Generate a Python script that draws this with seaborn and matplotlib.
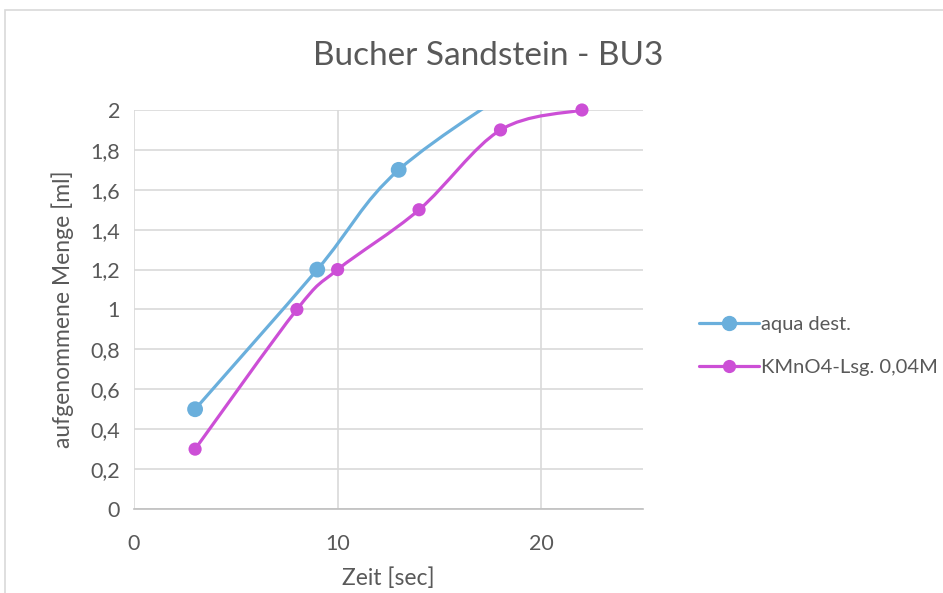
import numpy as np
import matplotlib
matplotlib.use("Agg")
import matplotlib.pyplot as plt
import seaborn as sns
from matplotlib.path import Path
from matplotlib.patches import PathPatch, Rectangle
from matplotlib.lines import Line2D
from matplotlib.ticker import FuncFormatter

# Data
aqua_x = [3, 9, 13, 20]
aqua_y = [0.5, 1.2, 1.7, 2.2]
kmno4_x = [3, 8, 10, 14, 18, 22]
kmno4_y = [0.3, 1.0, 1.2, 1.5, 1.9, 2.0]
series_names = ["aqua dest.", "KMnO4-Lsg. 0,04M"]
series_colors = ["#6aafdc", "#cc4fd6"]

sns.set_style("white")
plt.rcParams['font.family'] = ['Lato', 'DejaVu Sans']
grey = "#595959"


def smooth_path(xs, ys):
    # Excel-style smoothed line: cubic Bezier segments (Catmull-Rom control points)
    pts = np.column_stack([xs, ys]).astype(float)
    n = len(pts)
    verts = [pts[0]]
    codes = [Path.MOVETO]
    for i in range(n - 1):
        p0 = pts[i - 1] if i > 0 else pts[i]
        p1 = pts[i]
        p2 = pts[i + 1]
        p3 = pts[i + 2] if i + 2 < n else pts[i + 1]
        c1 = p1 + (p2 - p0) / 6.0
        c2 = p2 - (p3 - p1) / 6.0
        verts += [c1, c2, p2]
        codes += [Path.CURVE4] * 3
    return Path(verts, codes)


fig = plt.figure(figsize=(9.43, 5.93), dpi=100)
ax = fig.add_axes([0.1421, 0.1417, 0.5398, 0.6728])

# chart frame
fig.patches.append(Rectangle((5 / 943, -0.1), 1.2, 583 / 593 + 0.1, transform=fig.transFigure,
                             fill=False, edgecolor="#d9d9d9", linewidth=1.2))

for xs, ys, col, size, clip in [(aqua_x, aqua_y, series_colors[0], 130, True),
                                (kmno4_x, kmno4_y, series_colors[1], 90, False)]:
    patch = PathPatch(smooth_path(xs, ys), facecolor="none", edgecolor=col, linewidth=2.3,
                      capstyle="round", joinstyle="round", zorder=3)
    ax.add_patch(patch)
    sns.scatterplot(x=xs, y=ys, color=col, s=size, edgecolor="none", ax=ax, zorder=4, clip_on=clip)

ax.set_xlim(0, 25)
ax.set_ylim(0, 2)
ax.set_xticks([0, 10, 20])
ax.set_yticks(np.arange(0, 2.01, 0.2))
ax.yaxis.set_major_formatter(FuncFormatter(lambda v, p: f"{v:.1f}".rstrip("0").rstrip(".").replace(".", ",")))
ax.grid(True, color="#d9d9d9", linewidth=1.2)
ax.set_axisbelow(True)
for s in ["top", "right", "left"]:
    ax.spines[s].set_visible(False)
ax.spines["bottom"].set_color("#bfbfbf")
ax.spines["bottom"].set_linewidth(1.2)
ax.tick_params(axis="both", length=0, labelsize=15.5, labelcolor=grey, pad=10)
ax.tick_params(axis="x", pad=18)

ax.set_xlabel("Zeit [sec]", fontsize=16.5, color=grey, labelpad=10)
ax.set_ylabel("aufgenommene Menge [ml]", fontsize=16.5, color=grey, labelpad=12)
fig.text(0.518, 0.905, "Bucher Sandstein - BU3", ha="center", va="center", fontsize=24, color=grey)

handles = [Line2D([], [], color=c, linewidth=2.3, marker="o", markersize=ms)
           for c, ms in zip(series_colors, [10, 8.5])]
fig.legend(handles, series_names, loc="center left", bbox_to_anchor=(0.722, 0.416), frameon=False,
           fontsize=14.5, labelcolor=grey, handlelength=3.0, handletextpad=0.1, labelspacing=1.3)

fig.savefig("out.png", dpi=100)
